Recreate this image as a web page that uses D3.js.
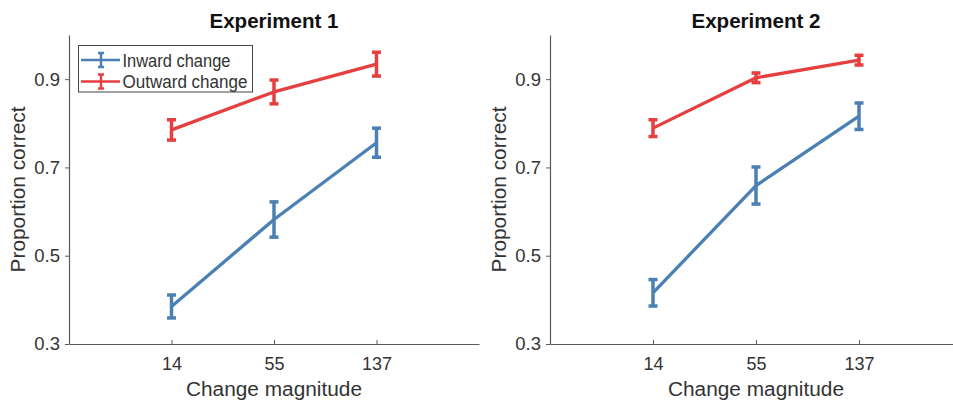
<!DOCTYPE html>
<html>
<head>
<meta charset="utf-8">
<script src="https://cdn.jsdelivr.net/npm/d3@7"></script>
<style>
  html, body { margin: 0; padding: 0; background: #fff; }
  svg { display: block; font-family: "Liberation Sans", Arial, Helvetica, sans-serif; }
</style>
</head>
<body>
<svg id="chart" width="953" height="402"></svg>
<script>
// ---- data ----
const categories = ["14", "55", "137"];
const yTicks = [0.3, 0.5, 0.7, 0.9];
const seriesNames = ["Inward change", "Outward change"];
const seriesColors = ["#4a80b3", "#e5403f"];
const panelTitles = ["Experiment 1", "Experiment 2"];

const exp1Inward = [0.385, 0.582, 0.756];
const exp1InwardErr = [0.026, 0.040, 0.033];
const exp1Outward = [0.785, 0.871, 0.934];
const exp1OutwardErr = [0.023, 0.027, 0.027];

const exp2Inward = [0.416, 0.659, 0.816];
const exp2InwardErr = [0.030, 0.042, 0.030];
const exp2Outward = [0.789, 0.903, 0.943];
const exp2OutwardErr = [0.019, 0.011, 0.011];

const panels = [
  { title: panelTitles[0], x0: 69, x1: 479, legend: true,
    series: [ { name: seriesNames[0], color: seriesColors[0], v: exp1Inward, e: exp1InwardErr },
              { name: seriesNames[1], color: seriesColors[1], v: exp1Outward, e: exp1OutwardErr } ] },
  { title: panelTitles[1], x0: 550, x1: 962, legend: false,
    series: [ { name: seriesNames[0], color: seriesColors[0], v: exp2Inward, e: exp2InwardErr },
              { name: seriesNames[1], color: seriesColors[1], v: exp2Outward, e: exp2OutwardErr } ] }
];

const svg = d3.select("#chart");
const yTop = 35, yBottom = 344;
const axisColor = "#5a5a5a";
const textColor = "#333";

const y = d3.scaleLinear().domain([0.3, 1.0]).range([yBottom, yTop]);

panels.forEach(p => {
  const g = svg.append("g");
  const x = d3.scalePoint().domain(categories).range([p.x0, p.x1]).padding(1);

  // y axis
  const ya = g.append("g").attr("transform", `translate(${p.x0},0)`)
    .call(d3.axisLeft(y).tickValues(yTicks).tickFormat(d3.format(".1f")).tickSizeInner(4).tickSizeOuter(0).tickPadding(5));
  ya.select(".domain").attr("stroke", axisColor).attr("stroke-width", 1.2);
  ya.selectAll(".tick line").attr("stroke", axisColor);
  ya.selectAll(".tick text").attr("fill", textColor).attr("font-size", 18.5).attr("font-family", "Liberation Sans, Arial, sans-serif");

  // x axis
  const xa = g.append("g").attr("transform", `translate(0,${yBottom})`)
    .call(d3.axisBottom(x).tickSizeInner(-4).tickSizeOuter(0).tickPadding(13));
  xa.select(".domain").attr("stroke", axisColor).attr("stroke-width", 1.2);
  xa.selectAll(".tick line").attr("stroke", axisColor);
  xa.selectAll(".tick text").attr("fill", textColor).attr("font-size", 18).attr("font-family", "Liberation Sans, Arial, sans-serif");

  const cx = (p.x0 + p.x1) / 2;
  // title
  g.append("text").attr("x", cx).attr("y", 27.5).attr("text-anchor", "middle")
    .attr("font-size", 19.5).attr("font-weight", "bold").attr("fill", "#111")
    .attr("textLength", 129).attr("lengthAdjust", "spacingAndGlyphs")
    .text(p.title);
  // x label
  g.append("text").attr("x", cx).attr("y", 395.5).attr("text-anchor", "middle")
    .attr("font-size", 20).attr("fill", textColor)
    .attr("textLength", 176).attr("lengthAdjust", "spacingAndGlyphs")
    .text("Change magnitude");
  // y label
  g.append("text").attr("transform", `translate(${p.x0 - 44},${(yTop + yBottom) / 2}) rotate(-90)`)
    .attr("text-anchor", "middle").attr("font-size", 20.5).attr("fill", textColor)
    .attr("textLength", 166).attr("lengthAdjust", "spacingAndGlyphs")
    .text("Proportion correct");

  const line = d3.line().x((d, i) => x(categories[i])).y(d => y(d));
  const capW = 4.5;
  p.series.forEach(s => {
    g.append("path").datum(s.v).attr("d", line)
      .attr("fill", "none").attr("stroke", s.color).attr("stroke-width", 3.3).attr("stroke-linejoin", "round");
    const eb = g.append("g").attr("stroke", s.color).attr("stroke-width", 3.5);
    s.v.forEach((v, i) => {
      const xx = x(categories[i]);
      eb.append("line").attr("x1", xx).attr("x2", xx).attr("y1", y(v - s.e[i])).attr("y2", y(v + s.e[i]));
      eb.append("line").attr("x1", xx - capW).attr("x2", xx + capW).attr("y1", y(v - s.e[i])).attr("y2", y(v - s.e[i]));
      eb.append("line").attr("x1", xx - capW).attr("x2", xx + capW).attr("y1", y(v + s.e[i])).attr("y2", y(v + s.e[i]));
    });
  });

  if (p.legend) {
    const lg = g.append("g");
    lg.append("rect").attr("x", 78.5).attr("y", 45.5).attr("width", 174).attr("height", 46.5)
      .attr("fill", "#fff").attr("stroke", "#444").attr("stroke-width", 1);
    p.series.forEach((s, i) => {
      const ly = 60 + i * 21.5;
      lg.append("line").attr("x1", 81).attr("x2", 120).attr("y1", ly).attr("y2", ly)
        .attr("stroke", s.color).attr("stroke-width", 2.5);
      lg.append("line").attr("x1", 101).attr("x2", 101).attr("y1", ly - 7).attr("y2", ly + 7)
        .attr("stroke", s.color).attr("stroke-width", 2.5);
      lg.append("line").attr("x1", 98).attr("x2", 104).attr("y1", ly - 7).attr("y2", ly - 7)
        .attr("stroke", s.color).attr("stroke-width", 2.5);
      lg.append("line").attr("x1", 98).attr("x2", 104).attr("y1", ly + 7).attr("y2", ly + 7)
        .attr("stroke", s.color).attr("stroke-width", 2.5);
      lg.append("text").attr("x", 122.5).attr("y", ly + 6.5).attr("font-size", 17.5).attr("fill", textColor)
        .attr("textLength", i === 0 ? 108 : 125).attr("lengthAdjust", "spacingAndGlyphs")
        .text(s.name);
    });
  }
});
</script>
</body>
</html>
